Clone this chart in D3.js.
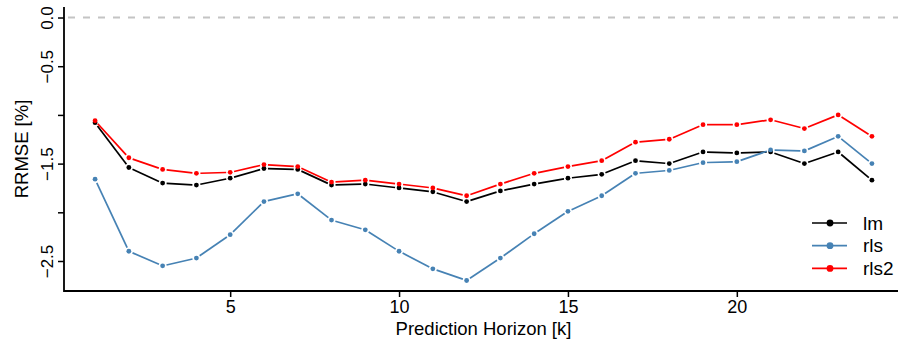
<!DOCTYPE html>
<html>
<head>
<meta charset="utf-8">
<script src="https://cdn.jsdelivr.net/npm/d3@7"></script>
<style>
  html, body { margin: 0; padding: 0; background: #fff; }
  svg { display: block; font-family: "Liberation Sans", Arial, sans-serif; }
</style>
</head>
<body>
<svg id="chart" width="898" height="342"></svg>
<script>
// Prediction horizons 1..24
const horizons = d3.range(1, 25);

// RRMSE per horizon for each model
const lmValues = [-1.08, -1.54, -1.70, -1.72, -1.65, -1.55, -1.56, -1.72, -1.71, -1.75,
                  -1.79, -1.89, -1.78, -1.71, -1.65, -1.61, -1.47, -1.50, -1.38, -1.39,
                  -1.38, -1.50, -1.38, -1.67];
const rlsValues = [-1.66, -2.40, -2.55, -2.47, -2.23, -1.89, -1.81, -2.08, -2.18, -2.40,
                   -2.58, -2.70, -2.47, -2.22, -1.99, -1.83, -1.60, -1.57, -1.49, -1.48,
                   -1.36, -1.37, -1.22, -1.50];
const rls2Values = [-1.06, -1.44, -1.56, -1.60, -1.59, -1.51, -1.53, -1.69, -1.67, -1.71,
                    -1.75, -1.83, -1.71, -1.60, -1.53, -1.47, -1.28, -1.25, -1.10, -1.10,
                    -1.05, -1.14, -1.00, -1.22];

const seriesNames = ["lm", "rls", "rls2"];
const seriesColors = ["#000000", "#4682B4", "#FF0000"];

const xTicks = [5, 10, 15, 20];
const yTicks = [0, -0.5, -1, -1.5, -2, -2.5];
const yTickLabels = ["0.0", "\u22120.5", "", "\u22121.5", "", "\u22122.5"];

const series = [lmValues, rlsValues, rls2Values].map((vals, i) => ({
  name: seriesNames[i],
  color: seriesColors[i],
  points: horizons.map((h, j) => ({ k: h, v: vals[j] }))
}));

const svg = d3.select("#chart");

// Plot region: x limits 1..24 and y limits -2.7..0, each padded by 4%
const x = d3.scaleLinear().domain([1 - 0.92, 24 + 0.92]).range([64, 903]);
const y = d3.scaleLinear().domain([-2.7 - 0.108, 0 + 0.108]).range([291, 7]);

// Zero reference line
svg.append("line")
  .attr("x1", x.range()[0]).attr("x2", 898)
  .attr("y1", y(0)).attr("y2", y(0))
  .attr("stroke", "#c4c4c4").attr("stroke-width", 2)
  .attr("stroke-dasharray", "7,8").attr("stroke-dashoffset", -4);

// Series: line segments with small gaps around each point, then the points
const gap = 4;
series.forEach(s => {
  const g = svg.append("g");
  const pts = s.points.map(p => [x(p.k), y(p.v)]);
  for (let i = 0; i < pts.length - 1; i++) {
    const [x1, y1] = pts[i], [x2, y2] = pts[i + 1];
    const len = Math.hypot(x2 - x1, y2 - y1);
    if (len <= 2 * gap) continue;
    const ux = (x2 - x1) / len, uy = (y2 - y1) / len;
    g.append("line")
      .attr("x1", x1 + ux * gap).attr("y1", y1 + uy * gap)
      .attr("x2", x2 - ux * gap).attr("y2", y2 - uy * gap)
      .attr("stroke", s.color).attr("stroke-width", 1.7);
  }
  g.selectAll("circle").data(s.points).join("circle")
    .attr("cx", d => x(d.k)).attr("cy", d => y(d.v))
    .attr("r", 2.4).attr("fill", s.color);
});

// Axes
const xAxis = svg.append("g")
  .attr("transform", `translate(0,${y.range()[0]})`)
  .call(d3.axisBottom(x).tickValues(xTicks).tickSize(6).tickPadding(3).tickFormat(d3.format("d")));
xAxis.select(".domain").remove();
xAxis.selectAll(".tick line").attr("stroke-width", 1.5);
xAxis.selectAll(".tick text")
  .attr("font-size", 18).attr("font-family", "Liberation Sans, Arial, sans-serif").attr("fill", "#000");

const yAxis = svg.append("g")
  .attr("transform", `translate(${x.range()[0]},0)`)
  .call(d3.axisLeft(y).tickValues(yTicks).tickSize(6)
    .tickFormat((d, i) => yTickLabels[i]));
yAxis.select(".domain").remove();
yAxis.selectAll(".tick line").attr("stroke-width", 1.5);
yAxis.selectAll(".tick text")
  .attr("font-size", 17).attr("font-family", "Liberation Sans, Arial, sans-serif").attr("fill", "#000")
  .attr("text-anchor", "middle")
  .attr("transform", "rotate(-90)")
  .attr("x", 0).attr("y", -11).attr("dy", 0);

// L-shaped frame
svg.append("path")
  .attr("d", `M${x.range()[0]},${y.range()[1]}V${y.range()[0]}H898`)
  .attr("fill", "none").attr("stroke", "#000").attr("stroke-width", 1.8);

// Axis titles
svg.append("text")
  .attr("x", (x.range()[0] + x.range()[1]) / 2).attr("y", 335)
  .attr("text-anchor", "middle").attr("font-size", 18.5)
  .text("Prediction Horizon [k]");

svg.append("text")
  .attr("transform", `translate(28,${(y.range()[0] + y.range()[1]) / 2}) rotate(-90)`)
  .attr("text-anchor", "middle").attr("font-size", 18.5)
  .text("RRMSE [%]");

// Legend
const legend = svg.append("g").attr("transform", "translate(812,223)");
series.forEach((s, i) => {
  const row = legend.append("g").attr("transform", `translate(0,${i * 22.7})`);
  row.append("line").attr("x1", 0).attr("x2", 35).attr("y1", 0).attr("y2", 0)
    .attr("stroke", s.color).attr("stroke-width", 1.7);
  row.append("circle").attr("cx", 18).attr("cy", 0).attr("r", 3.4).attr("fill", s.color);
  row.append("text").attr("x", 51).attr("y", 0).attr("dy", "0.35em")
    .attr("font-size", 19).text(s.name);
});
</script>
</body>
</html>
